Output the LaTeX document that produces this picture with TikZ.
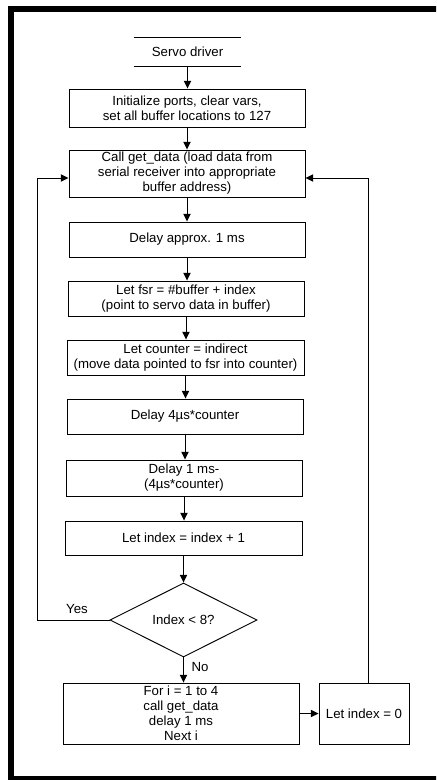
\documentclass[tikz,border=0pt]{standalone}
\usepackage{fontspec}
\setmainfont{Liberation Sans}
\usetikzlibrary{arrows.meta,shapes.geometric,calc}
\begin{document}
\begin{tikzpicture}[x=0.03cm,y=-0.03cm,
  line width=0.8pt,
  txt/.style={font=\fontsize{11.3}{12.8}\selectfont, align=center, inner sep=0pt},
  box/.style 2 args={txt, draw, minimum width=#1*0.03cm, minimum height=#2*0.03cm},
  dec/.style={txt, draw, diamond, aspect=2, minimum width=147*0.03cm, minimum height=74*0.03cm},
  arr/.style={-{Triangle[length=2.3mm,width=2.2mm]}},
  lbl/.style={txt}]
\useasboundingbox (0,0) rectangle (436,780);
\begin{scope}
\clip (0,0) rectangle (436,780);
\draw[line width=5.2pt] (440,9) -- (11,9) -- (11,779) -- (440,779);
\end{scope}
% start
\node[txt, minimum width=107*0.03cm, minimum height=28*0.03cm] (sd) at (187.5,52) {Servo driver};
\draw (sd.north west) -- (sd.north east) (sd.south west) -- (sd.south east);
% boxes
\node[box={236}{38}] (b1) at (187,108) {Initialize ports, clear vars,\\set all buffer locations to 127};
\node[box={236}{47}] (b2) at (187,173.5) {Call get\_data (load data from\\serial receiver into appropriate\\buffer address)};
\node[box={236}{35}] (b3) at (187,239.5) {Delay approx. 1 ms};
\node[box={236}{35}] (b4) at (186,298.5) {Let fsr = \#buffer + index\\(point to servo data in buffer)};
\node[box={237}{35}] (b5) at (185.5,357.5) {Let counter = indirect\\(move data pointed to fsr into counter)};
\node[box={236}{35}] (b6) at (185,416.5) {Delay 4µs*counter};
\node[box={236}{36}] (b7) at (184,478) {Delay 1 ms-\\(4µs*counter)};
\node[box={237}{34}] (b8) at (183.5,538) {Let index = index + 1};
\node[dec] (d) at (183.5,620) {Index < 8?};
\node[box={236}{61}] (b9) at (181,713.5) {For i = 1 to 4\\call get\_data\\delay 1 ms\\Next i};
\node[box={90}{61}] (b10) at (364,713.5) {Let index = 0};
% labels
\node[lbl] (yes) at (77,609) {Yes};
\node[lbl] (no) at (200,667) {No};
% main flow
\draw[arr] (sd.south) -- (sd.south |- b1.north);
\draw[arr] (b1.south) -- (b1.south |- b2.north);
\draw[arr] (b2.south) -- (b2.south |- b3.north);
\draw[arr] (b3.south) -- (b3.south |- b4.north);
\draw[arr] (b4.south) -- (b4.south |- b5.north);
\draw[arr] (b5.south) -- (b5.south |- b6.north);
\draw[arr] (b6.south) -- (b6.south |- b7.north);
\draw[arr] (b7.south) -- (b7.south |- b8.north);
\draw[arr] (b8.south) -- (b8.south |- d.north);
\draw[arr] (d.south) -- (d.south |- b9.north);
\draw[arr] (b9.east) -- (b10.west);
% loops
\coordinate (L) at (37,178);
\coordinate (R) at (368,178);
\draw[arr] (d.west) -- (d.west -| L) -- (L) -- (b2.west |- L);
\draw[arr] (b10.north -| R) -- (R) -- (b2.east |- R);
\end{tikzpicture}
\end{document}
